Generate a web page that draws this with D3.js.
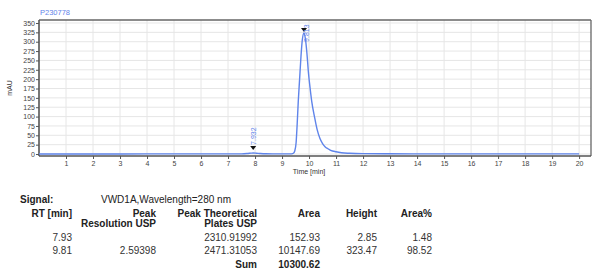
<!DOCTYPE html>
<html><head><meta charset="utf-8">
<script src="https://cdn.jsdelivr.net/npm/d3@7"></script>
<style>html,body{margin:0;padding:0;background:#fff}svg{display:block}</style>
</head><body>
<svg id="c" width="600" height="276"></svg>
<script>
const sampleName = "P230778";
const times = [0,1,2,3,4,5,6,7,7.5,7.7,7.85,7.93,8.05,8.2,8.4,9,9.35,9.42,9.47,9.52,9.56,9.6,9.65,9.7,9.75,9.81,9.86,9.92,9.98,10.04,10.1,10.2,10.3,10.4,10.5,10.6,10.7,10.8,11.0,11.2,11.5,12,13,14,16,18,20];
const signal = [0.2,0.2,0.2,0.2,0.3,0.3,0.3,0.4,0.5,1.2,2.3,2.85,2.2,1.2,0.6,0.4,0.5,2,8,30,80,140,200,260,305,323.47,310,270,215,175,140,100,65,42,28,19,14,10,6,3.5,2,1,0.6,0.4,0.3,0.3,0.3];
const peakTimes = [7.932, 9.813];
const peakHeights = [2.85, 323.47];
const peakLabels = ["7.932", "9.813"];
const yTicks = [0,25,50,75,100,125,150,175,200,225,250,275,300,325,350];
const xTicks = [1,2,3,4,5,6,7,8,9,10,11,12,13,14,15,16,17,18,19,20];
const signalText = "VWD1A,Wavelength=280 nm";
const headers = [["RT [min]"],["Peak","Resolution USP"],["Peak Theoretical","Plates USP"],["Area"],["Height"],["Area%"]];
const rowRT = ["7.93","9.81"];
const rowRes = ["","2.59398"];
const rowPlates = ["2310.91992","2471.31053"];
const rowArea = ["152.93","10147.69"];
const rowHeight = ["2.85","323.47"];
const rowAreaPct = ["1.48","98.52"];
const sumLabel = "Sum";
const sumArea = "10300.62";

const svg = d3.select("#c");
const L=39, R=591, T=20, B=156;
const x = d3.scaleLinear().domain([0,20.44]).range([L,R]);
const y = d3.scaleLinear().domain([-5.3,358]).range([B,T]);
const blue = "#5f84ea";
const font = "Liberation Sans, Arial, sans-serif";

// grid
svg.append("g").selectAll("line").data(xTicks).join("line")
  .attr("x1",d=>x(d)).attr("x2",d=>x(d)).attr("y1",T).attr("y2",B)
  .attr("stroke","#e6e6e6").attr("stroke-width",1);
svg.append("g").selectAll("line").data(yTicks).join("line")
  .attr("x1",L).attr("x2",R).attr("y1",d=>y(d)).attr("y2",d=>y(d))
  .attr("stroke","#e6e6e6").attr("stroke-width",1);

// axes
const xAxis = d3.axisBottom(x).tickValues(xTicks).tickSize(3).tickPadding(2).tickFormat(d3.format("d"));
const gx = svg.append("g").attr("transform",`translate(0,${B})`).call(xAxis);
gx.select(".domain").remove();
gx.selectAll("line").attr("stroke","#555");
gx.selectAll("text").attr("font-size",7).attr("fill","#444").attr("font-family",font);
const yAxis = d3.axisLeft(y).tickValues(yTicks).tickSize(3).tickPadding(1);
const gy = svg.append("g").attr("transform",`translate(${L},0)`).call(yAxis);
gy.select(".domain").remove();
gy.selectAll("line").attr("stroke","#555");
gy.selectAll("text").attr("font-size",7).attr("fill","#444").attr("font-family",font);

// frame
svg.append("line").attr("x1",L).attr("x2",R).attr("y1",T).attr("y2",T).attr("stroke","#666").attr("stroke-width",1.3);
svg.append("line").attr("x1",R).attr("x2",R).attr("y1",T).attr("y2",B).attr("stroke","#666").attr("stroke-width",1.3);
svg.append("line").attr("x1",L).attr("x2",R).attr("y1",B).attr("y2",B).attr("stroke","#555").attr("stroke-width",1.3);
svg.append("line").attr("x1",L).attr("x2",L).attr("y1",T).attr("y2",B).attr("stroke","#555").attr("stroke-width",1.6);

// trace
const line = d3.line().x((d,i)=>x(times[i])).y((d,i)=>y(signal[i])).curve(d3.curveMonotoneX);
svg.append("path").datum(signal).attr("d",line).attr("fill","none").attr("stroke",blue).attr("stroke-width",1.4);

// peak markers
peakTimes.forEach((t,i)=>{
  const px = x(t), py = y(peakHeights[i]) - (i===0?3:1);
  svg.append("path").attr("d",`M${px-3},${py-4}L${px+3},${py-4}L${px},${py}Z`).attr("fill","#111");
  const lx = i===0 ? px+2.5 : px+5;
  const ly = i===0 ? py-5 : py+10;
  svg.append("text").attr("transform",`translate(${lx},${ly}) rotate(-90)`)
    .attr("font-size",7).attr("fill",blue).attr("font-family",font).text(peakLabels[i]);
});

// titles
svg.append("text").attr("x",40).attr("y",15).attr("font-size",7.5).attr("fill",blue).attr("font-family",font).text(sampleName);
svg.append("text").attr("transform",`translate(12,${(T+B)/2}) rotate(-90)`).attr("text-anchor","middle")
  .attr("font-size",7).attr("fill","#333").attr("font-family",font).text("mAU");
svg.append("text").attr("x",x(10)).attr("y",174).attr("text-anchor","middle")
  .attr("font-size",7).attr("fill","#333").attr("font-family",font).text("Time [min]");

// table
const tfont = 10;
svg.append("text").attr("x",20).attr("y",203).attr("font-size",tfont).attr("font-weight","bold").attr("font-family",font).attr("fill","#222").text("Signal:");
svg.append("text").attr("x",101).attr("y",203).attr("font-size",tfont).attr("font-family",font).attr("fill","#222").text(signalText);
const colX = [72,156,257,320,377,432];
headers.forEach((h,ci)=>{
  h.forEach((s,li)=>{
    svg.append("text").attr("x",colX[ci]).attr("y",217+li*9.5).attr("text-anchor","end")
      .attr("font-size",tfont).attr("font-weight","bold").attr("font-family",font).attr("fill","#222").text(s);
  });
});
const cols = [rowRT,rowRes,rowPlates,rowArea,rowHeight,rowAreaPct];
[241,254].forEach((ry,ri)=>{
  cols.forEach((c,ci)=>{
    svg.append("text").attr("x",colX[ci]).attr("y",ry).attr("text-anchor","end")
      .attr("font-size",tfont).attr("font-family",font).attr("fill","#333").text(c[ri]);
  });
});
svg.append("text").attr("x",colX[2]).attr("y",268).attr("text-anchor","end").attr("font-size",tfont).attr("font-weight","bold").attr("font-family",font).attr("fill","#222").text(sumLabel);
svg.append("text").attr("x",colX[3]).attr("y",268).attr("text-anchor","end").attr("font-size",tfont).attr("font-weight","bold").attr("font-family",font).attr("fill","#222").text(sumArea);
</script>
</body></html>
